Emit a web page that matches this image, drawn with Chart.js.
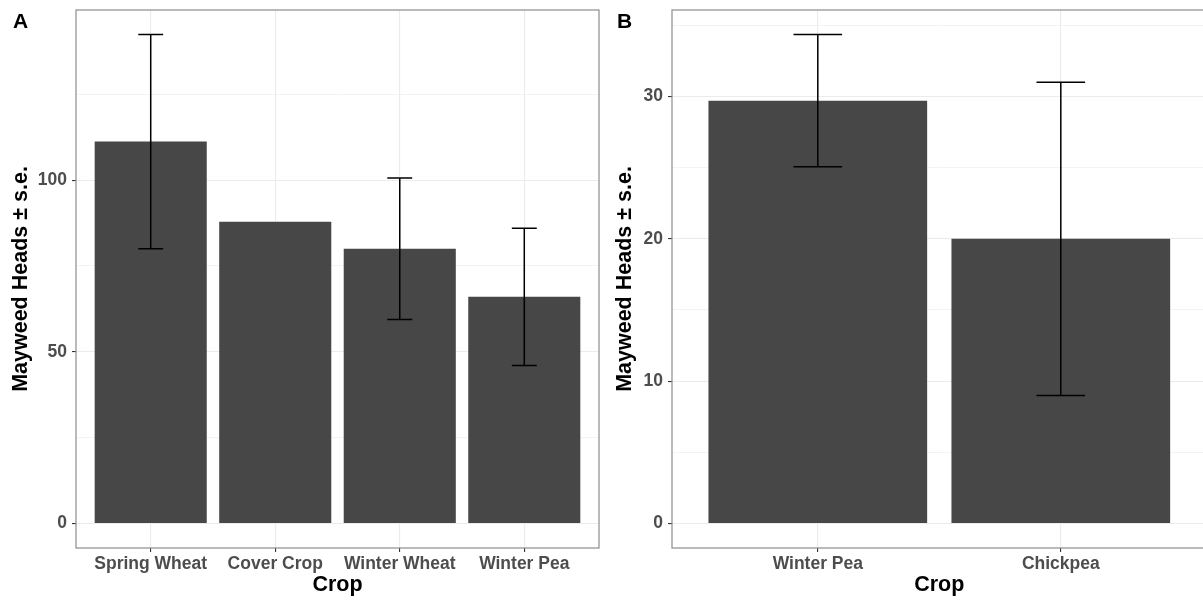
<!DOCTYPE html>
<html>
<head>
<meta charset="utf-8">
<script src="https://cdn.jsdelivr.net/npm/chart.js@4"></script>
<style>
html, body { margin: 0; padding: 0; overflow: hidden; background: #fff; }
#wrap { position: relative; width: 1203px; height: 600px; overflow: hidden; }
canvas { position: absolute; top: 0; }
.tag { position: absolute; font: bold 21px "Liberation Sans", Arial, sans-serif; line-height: 21px; color: #000; }
</style>
</head>
<body>
<div id="wrap">
  <canvas id="chartA" width="604" height="600" style="left:0"></canvas>
  <canvas id="chartB" width="606" height="600" style="left:604px"></canvas>
  <div class="tag" style="left:13px;top:10px">A</div>
  <div class="tag" style="left:617px;top:10px">B</div>
</div>
<script>
// panel A
const cropsA = ['Spring Wheat', 'Cover Crop', 'Winter Wheat', 'Winter Pea'];
const headsA = [111.2, 87.9, 80.0, 66.0];
const seA = [31.2, null, 20.6, 20.0];
const yTicksA = [0, 50, 100];
const yMinorA = [25, 75, 125];

// panel B
const cropsB = ['Winter Pea', 'Chickpea'];
const headsB = [29.7, 20.0];
const seB = [4.65, 11.0];
const yTicksB = [0, 10, 20, 30];
const yMinorB = [5, 15, 25, 35];

const FONT = '"Liberation Sans", Arial, sans-serif';

const errorBars = {
  id: 'errorBars',
  afterDatasetsDraw(chart, args, opts) {
    const {ctx, scales: {x, y}} = chart;
    const data = chart.data.datasets[0].data;
    ctx.save();
    ctx.strokeStyle = '#000';
    ctx.lineWidth = 1.5;
    opts.se.forEach((s, i) => {
      if (s == null) return;
      const m = data[i].y;
      const xc = x.getPixelForValue(i + 1);
      const xl = x.getPixelForValue(i + 0.9);
      const xr = x.getPixelForValue(i + 1.1);
      const yt = y.getPixelForValue(m + s);
      const yb = y.getPixelForValue(m - s);
      ctx.beginPath();
      ctx.moveTo(xc, yt); ctx.lineTo(xc, yb);
      ctx.moveTo(xl, yt); ctx.lineTo(xr, yt);
      ctx.moveTo(xl, yb); ctx.lineTo(xr, yb);
      ctx.stroke();
    });
    ctx.restore();
  }
};

const panelBox = {
  id: 'panelBox',
  afterDraw(chart) {
    const {ctx, chartArea: a} = chart;
    ctx.save();
    ctx.strokeStyle = '#8c8c8c';
    ctx.lineWidth = 1.2;
    ctx.strokeRect(a.left, a.top, a.right - a.left, a.bottom - a.top);
    ctx.restore();
  }
};

function makePanel(id, cats, means, se, major, minor, yWidth, padRight) {
  // ggplot style limits: 0 .. max(mean+se), expanded 5%
  let top = 0;
  means.forEach((m, i) => { top = Math.max(top, m + (se[i] || 0)); });
  const yMin = -top * 0.05, yMax = top * 1.05;

  new Chart(document.getElementById(id), {
    type: 'bar',
    data: {
      datasets: [{
        data: cats.map((c, i) => ({x: i + 1, y: means[i]})),
        backgroundColor: '#474747',
        borderWidth: 0,
        categoryPercentage: 1,
        barPercentage: 0.9
      }]
    },
    options: {
      responsive: false,
      animation: false,
      layout: {padding: {left: 0, top: 10, right: padRight, bottom: 0}},
      plugins: {
        legend: {display: false},
        tooltip: {enabled: false},
        errorBars: {se: se}
      },
      scales: {
        x: {
          type: 'linear',
          min: 0.4,
          max: cats.length + 0.6,
          offset: false,
          bounds: 'data',
          afterBuildTicks: s => { s.ticks = cats.map((c, i) => ({value: i + 1})); },
          afterFit: s => { s.height = 52; s.paddingLeft = 0; s.paddingRight = 0; },
          grid: {offset: false, color: '#ebebeb', lineWidth: 1.1, tickColor: '#333', tickLength: 4, tickWidth: 1.1},
          border: {display: false},
          ticks: {
            autoSkip: false, maxRotation: 0, padding: 2, color: '#4d4d4d',
            font: {family: FONT, size: 17.5, weight: 'bold'},
            callback: v => cats[v - 1]
          },
          title: {
            display: true, text: 'Crop', color: '#000',
            font: {family: FONT, size: 21.5, weight: 'bold'},
            padding: {top: 0, bottom: 2}
          }
        },
        y: {
          min: yMin,
          max: yMax,
          bounds: 'data',
          afterBuildTicks: s => {
            s.ticks = major.concat(minor).sort((a, b) => a - b).map(v => ({value: v}));
          },
          afterFit: s => { s.width = yWidth; s.paddingTop = 0; s.paddingBottom = 0; },
          grid: {
            color: '#ebebeb',
            lineWidth: c => major.includes(c.tick.value) ? 1.1 : 0.6,
            tickColor: c => major.includes(c.tick.value) ? '#333' : 'rgba(0,0,0,0)',
            tickLength: 4,
            tickWidth: 1.1
          },
          border: {display: false},
          ticks: {
            padding: 5, color: '#4d4d4d',
            font: {family: FONT, size: 17.5, weight: 'bold'},
            callback: v => major.includes(v) ? String(v) : ''
          },
          title: {
            display: true, text: 'Mayweed Heads ± s.e.', color: '#000',
            font: {family: FONT, size: 21.5, weight: 'bold'},
            padding: {top: 8, bottom: 0}
          }
        }
      }
    },
    plugins: [errorBars, panelBox]
  });
}

makePanel('chartA', cropsA, headsA, seA, yTicksA, yMinorA, 76, 5);
makePanel('chartB', cropsB, headsB, seB, yTicksB, yMinorB, 68, 3.4);
</script>
</body>
</html>
